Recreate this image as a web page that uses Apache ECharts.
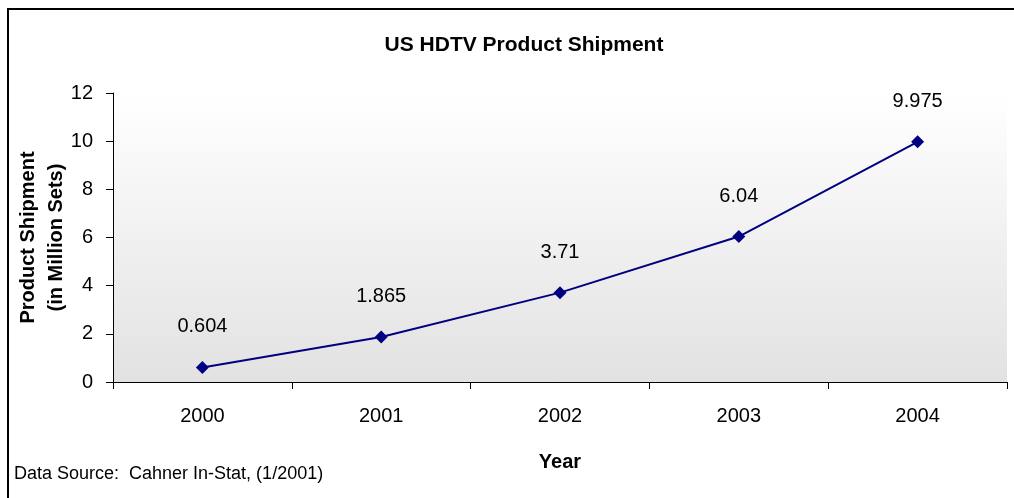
<!DOCTYPE html>
<html>
<head>
<meta charset="utf-8">
<script src="https://cdn.jsdelivr.net/npm/echarts@6/dist/echarts.min.js"></script>
<style>
  html, body { margin: 0; padding: 0; background: #fff; }
  #chart { width: 1014px; height: 498px; }
</style>
</head>
<body>
<div id="chart"></div>
<script>
// data
var years = ["2000", "2001", "2002", "2003", "2004"];
var shipment = [0.604, 1.865, 3.71, 6.04, 9.975];
var yMin = 0, yMax = 12, yStep = 2;

var font = "'Liberation Sans', Arial, sans-serif";
var navy = "#000080";

var chart = echarts.init(document.getElementById("chart"));

var option = {
  backgroundColor: "#fff",
  animation: false,
  title: {
    text: "US HDTV Product Shipment",
    left: 519,
    top: 30,
    textAlign: "center",
    textStyle: { fontFamily: font, fontSize: 21, fontWeight: "bold", color: "#000" }
  },
  grid: {
    left: 113,
    right: 7,
    top: 93,
    bottom: 116,
    containLabel: false,
    outerBoundsMode: "none",
    show: true,
    borderWidth: 0,
    backgroundColor: {
      type: "linear", x: 0, y: 0, x2: 0, y2: 1,
      colorStops: [
        { offset: 0, color: "#ffffff" },
        { offset: 1, color: "#e2e2e2" }
      ]
    }
  },
  xAxis: {
    type: "category",
    data: years,
    boundaryGap: true,
    name: "Year",
    nameLocation: "middle",
    nameGap: 70,
    nameMoveOverlap: false,
    nameTextStyle: { fontFamily: font, fontSize: 20, fontWeight: "bold", color: "#000" },
    axisLine: { show: true, lineStyle: { color: "#000", width: 1 } },
    axisTick: { show: true, length: 7, alignWithLabel: false, lineStyle: { color: "#000" } },
    axisLabel: { margin: 24, fontFamily: font, fontSize: 20, color: "#000" },
    splitLine: { show: false }
  },
  yAxis: {
    type: "value",
    min: yMin,
    max: yMax,
    interval: yStep,
    name: "Product Shipment\n(in Million Sets)",
    nameLocation: "middle",
    nameGap: 43,
    nameMoveOverlap: false,
    nameTextStyle: { fontFamily: font, fontSize: 20, fontWeight: "bold", color: "#000", lineHeight: 28 },
    axisLine: { show: true, lineStyle: { color: "#000", width: 1 } },
    axisTick: { show: true, length: 7, lineStyle: { color: "#000" } },
    axisLabel: { margin: 20, fontFamily: font, fontSize: 20, color: "#000" },
    splitLine: { show: false }
  },
  series: [{
    type: "line",
    data: shipment,
    symbol: "diamond",
    symbolSize: 13,
    lineStyle: { color: navy, width: 2 },
    itemStyle: { color: navy },
    label: {
      show: true,
      position: "top",
      distance: 24,
      fontFamily: font,
      fontSize: 20,
      color: "#000"
    }
  }],
  graphic: [
    {
      type: "rect",
      shape: { x: 8, y: 9, width: 1100, height: 600 },
      style: { fill: "none", stroke: "#000", lineWidth: 2 },
      silent: true
    },
    {
      type: "text",
      left: 14,
      top: 465,
      style: { text: "Data Source:  Cahner In-Stat, (1/2001)", font: "18px " + font, fill: "#000" }
    }
  ]
};

chart.setOption(option);
</script>
</body>
</html>
